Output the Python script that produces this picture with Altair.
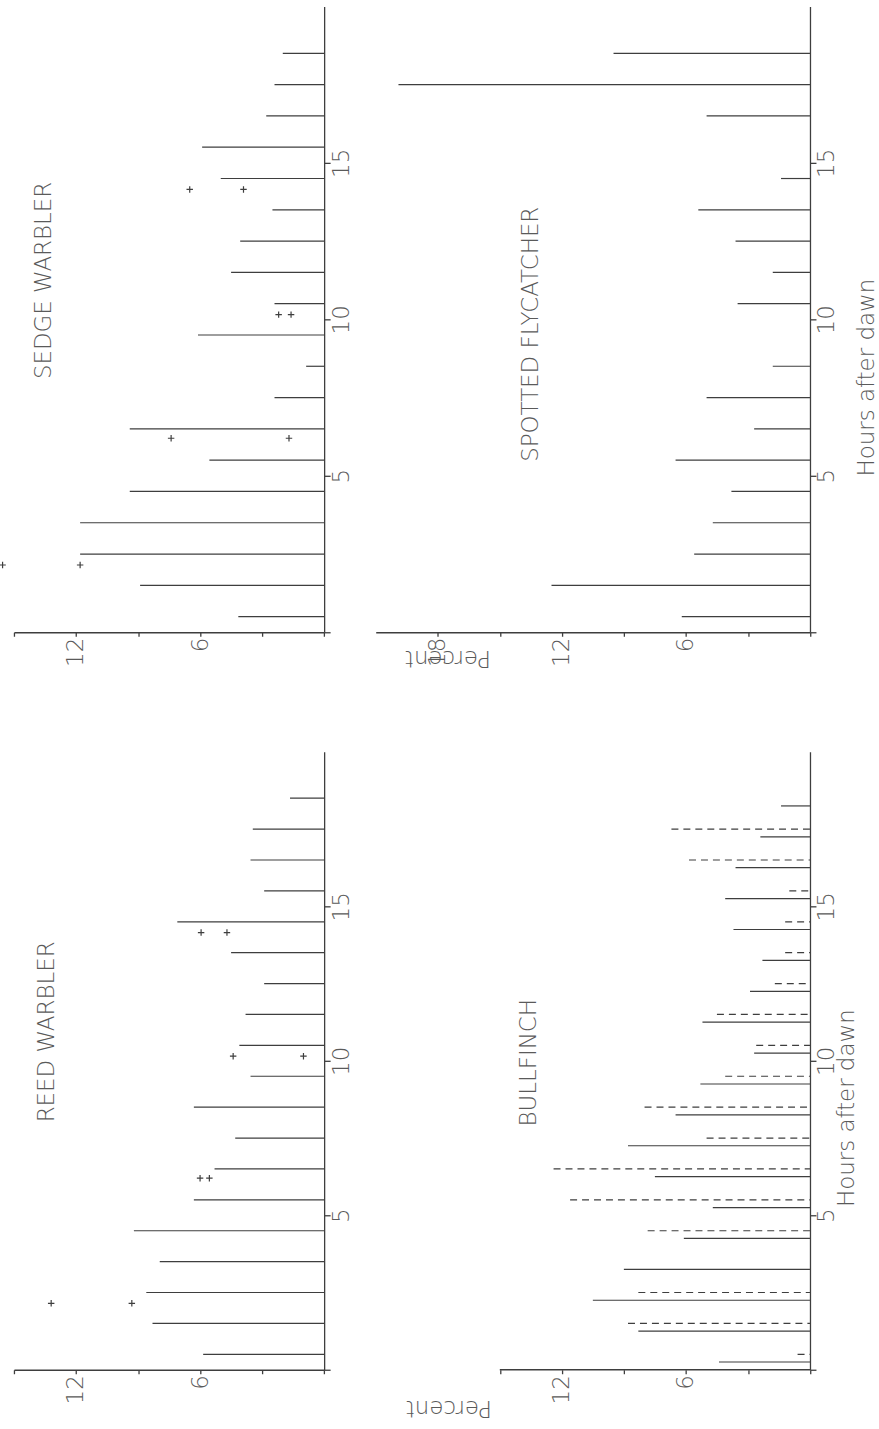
import altair as alt
import pandas as pd

# ---------------- data ----------------
bin_hours = [0.5, 1.5, 2.5, 3.5, 4.5, 5.5, 6.5, 7.5, 8.5, 9.5,
             10.5, 11.5, 12.5, 13.5, 14.5, 15.5, 16.5, 17.5, 18.5]

sedge_pct = [4.15, 8.9, 11.8, 11.8, 9.4, 5.55, 9.4, 2.4, 0.87, 6.1,
             2.4, 4.5, 4.06, 2.5, 5.0, 5.9, 2.8, 2.4, 2.0]
sedge_plus_hours = [2.15, 2.15, 6.2, 6.2, 10.15, 10.15, 14.15, 14.15]
sedge_plus_pct = [15.55, 11.8, 7.4, 1.7, 2.2, 1.6, 6.5, 3.9]

reed_pct = [5.85, 8.3, 8.6, 7.95, 9.2, 6.3, 5.3, 4.3, 6.3, 3.56,
            4.1, 3.8, 2.9, 4.5, 7.1, 2.9, 3.56, 3.45, 1.65]
reed_plus_hours = [2.15, 2.15, 6.2, 6.2, 10.15, 10.15, 14.15, 14.15]
reed_plus_pct = [13.2, 9.3, 6.0, 5.55, 4.4, 1.0, 5.95, 4.7]

fly_pct = [6.2, 12.5, 5.6, 4.7, 3.8, 6.5, 2.7, 5.0, 1.8, 0.0,
           3.5, 1.8, 3.6, 5.4, 1.4, 0.0, 5.0, 19.9, 9.5]

bull_solid_hours = [0.25, 1.25, 2.25, 3.25, 4.25, 5.25, 6.25, 7.25, 8.25, 9.25,
                    10.25, 11.25, 12.25, 13.25, 14.25, 15.25, 16.25, 17.25, 18.25]
bull_solid_pct = [4.4, 8.3, 10.5, 9.0, 6.1, 4.7, 7.5, 8.8, 6.5, 5.3,
                  2.7, 5.2, 2.9, 2.3, 3.7, 4.1, 3.6, 2.4, 1.4]
bull_dash_hours = [0.5, 1.5, 2.5, 4.5, 5.5, 6.5, 7.5, 8.5, 9.5,
                   10.5, 11.5, 12.5, 13.5, 14.5, 15.5, 16.5, 17.5]
bull_dash_pct = [0.6, 8.8, 8.3, 7.85, 11.6, 12.4, 5.0, 8.0, 4.1,
                 2.6, 4.5, 1.7, 1.2, 1.2, 1.0, 5.85, 6.7]

hour_ticks = [0, 5, 10, 15]
pct_ticks_15 = [0, 3, 6, 9, 12, 15]
pct_ticks_18 = [0, 3, 6, 9, 12, 15, 18]

# ---------------- style ----------------
LINE = "#3e3e3e"
TEXT = "#5a5a5a"
FONT = "DejaVu Sans"
FW = 200
FS = 23
PX_PER_PCT = 20.75
LEFT_W = 15 * PX_PER_PCT
RIGHT_W = 21 * PX_PER_PCT
TOP_H = 628
BOT_H = 620


def encs(xmax, pct_ticks, x_title=None, x_title_xy=None, y_title=None, y_title_xy=None, x_domain_line=True):
    xaxis_kw = dict(
        values=pct_ticks,
        labelExpr="datum.value > 0 && datum.value % 6 == 0 ? datum.label : ''",
        labelAngle=270, labelAlign="right", labelBaseline="middle",
        labelPadding=1, tickSize=4, grid=False, domain=x_domain_line,
        title=x_title,
    )
    if x_title is not None:
        xaxis_kw.update(titleAngle=180, titleAlign="center", titleBaseline="middle",
                        titleX=x_title_xy[0], titleY=x_title_xy[1],
                        titleFont=FONT, titleFontSize=FS, titleFontWeight=FW,
                        titleColor=TEXT)
    yaxis_kw = dict(
        values=hour_ticks, orient="right",
        labelExpr="datum.value > 0 ? datum.label : ''",
        labelAngle=270, labelAlign="center", labelBaseline="top",
        labelPadding=0, tickSize=6, grid=False, title=y_title,
    )
    if y_title is not None:
        yaxis_kw.update(titleAngle=270, titleAlign="center", titleBaseline="middle",
                        titleX=y_title_xy[0], titleY=y_title_xy[1],
                        titleFont=FONT, titleFontSize=FS, titleFontWeight=FW,
                        titleColor=TEXT)
    xs = alt.Scale(domain=[0, xmax], reverse=True, nice=False, zero=True)
    ys = alt.Scale(domain=[0, 20], nice=False, zero=True)
    x = alt.X("pct:Q", scale=xs, axis=alt.Axis(**xaxis_kw))
    y = alt.Y("hour:Q", scale=ys, axis=alt.Axis(**yaxis_kw))
    return x, y


def bars(hours, pct, x, y, dash=None):
    df = pd.DataFrame({"hour": hours, "pct": pct})
    kw = dict(color=LINE, strokeWidth=1.2)
    if dash is not None:
        kw["strokeDash"] = dash
    return alt.Chart(df).mark_rule(**kw).encode(x=x, x2=alt.datum(0), y=y)


def pluses(hours, pct, x, y):
    df = pd.DataFrame({"hour": hours, "pct": pct})
    return alt.Chart(df).mark_point(
        shape="M-1,0L1,0M0,-1L0,1", filled=False, size=42,
        strokeWidth=1.2, color=LINE, opacity=1,
    ).encode(x=x, y=y)


def label(name, px, py):
    return alt.Chart(pd.DataFrame({"t": [name]})).mark_text(
        angle=270, align="center", baseline="middle", font=FONT,
        fontSize=FS, fontWeight=FW, color=TEXT,
    ).encode(text="t:N", x=alt.value(px), y=alt.value(py))


# Sedge warbler (top-left)
x, y = encs(15, pct_ticks_15)
sedge = alt.layer(
    bars(bin_hours, sedge_pct, x, y),
    pluses(sedge_plus_hours, sedge_plus_pct, x, y),
    label("SEDGE WARBLER", 30, 275),
).properties(width=LEFT_W, height=TOP_H)

# Spotted flycatcher (top-right)
x, y = encs(21, pct_ticks_18, x_title="Percent", x_title_xy=(72, 25),
            y_title="Hours after dawn", y_title_xy=(57, 372))
fly = alt.layer(
    bars(bin_hours, fly_pct, x, y),
    label("SPOTTED FLYCATCHER", 156, 329),
).properties(width=RIGHT_W, height=TOP_H)

# Reed warbler (bottom-left)
x, y = encs(15, pct_ticks_15)
reed = alt.layer(
    bars(bin_hours, reed_pct, x, y),
    pluses(reed_plus_hours, reed_plus_pct, x, y),
    label("REED WARBLER", 33, 281),
).properties(width=LEFT_W, height=BOT_H)

# Bullfinch (bottom-right)
x, y = encs(21, pct_ticks_15, x_title="Percent", x_title_xy=(73, 38),
            y_title="Hours after dawn", y_title_xy=(37, 357), x_domain_line=False)
axis_line = alt.Chart(pd.DataFrame({"pct": [15], "hour": [0]})).mark_rule(
    color=LINE, strokeWidth=1.3).encode(x=x, x2=alt.datum(0), y=y)
bull = alt.layer(
    axis_line,
    bars(bull_solid_hours, bull_solid_pct, x, y),
    bars(bull_dash_hours, bull_dash_pct, x, y, dash=[7, 5]),
    label("BULLFINCH", 154, 312),
).properties(width=RIGHT_W, height=BOT_H)

chart = alt.concat(
    sedge, fly, reed, bull, columns=2,
    spacing={"row": 120, "column": 51}, bounds="flush",
).properties(
    padding={"left": -4, "top": 4, "right": 0, "bottom": 0},
    background="white",
).configure_view(stroke=None).configure_axis(
    domainColor=LINE, domainWidth=1.3, tickColor=LINE, tickWidth=1.3,
    labelColor=TEXT, labelFont=FONT, labelFontSize=FS, labelFontWeight=FW,
)

chart.save("out.html", embed_options={"renderer": "svg", "actions": False})
